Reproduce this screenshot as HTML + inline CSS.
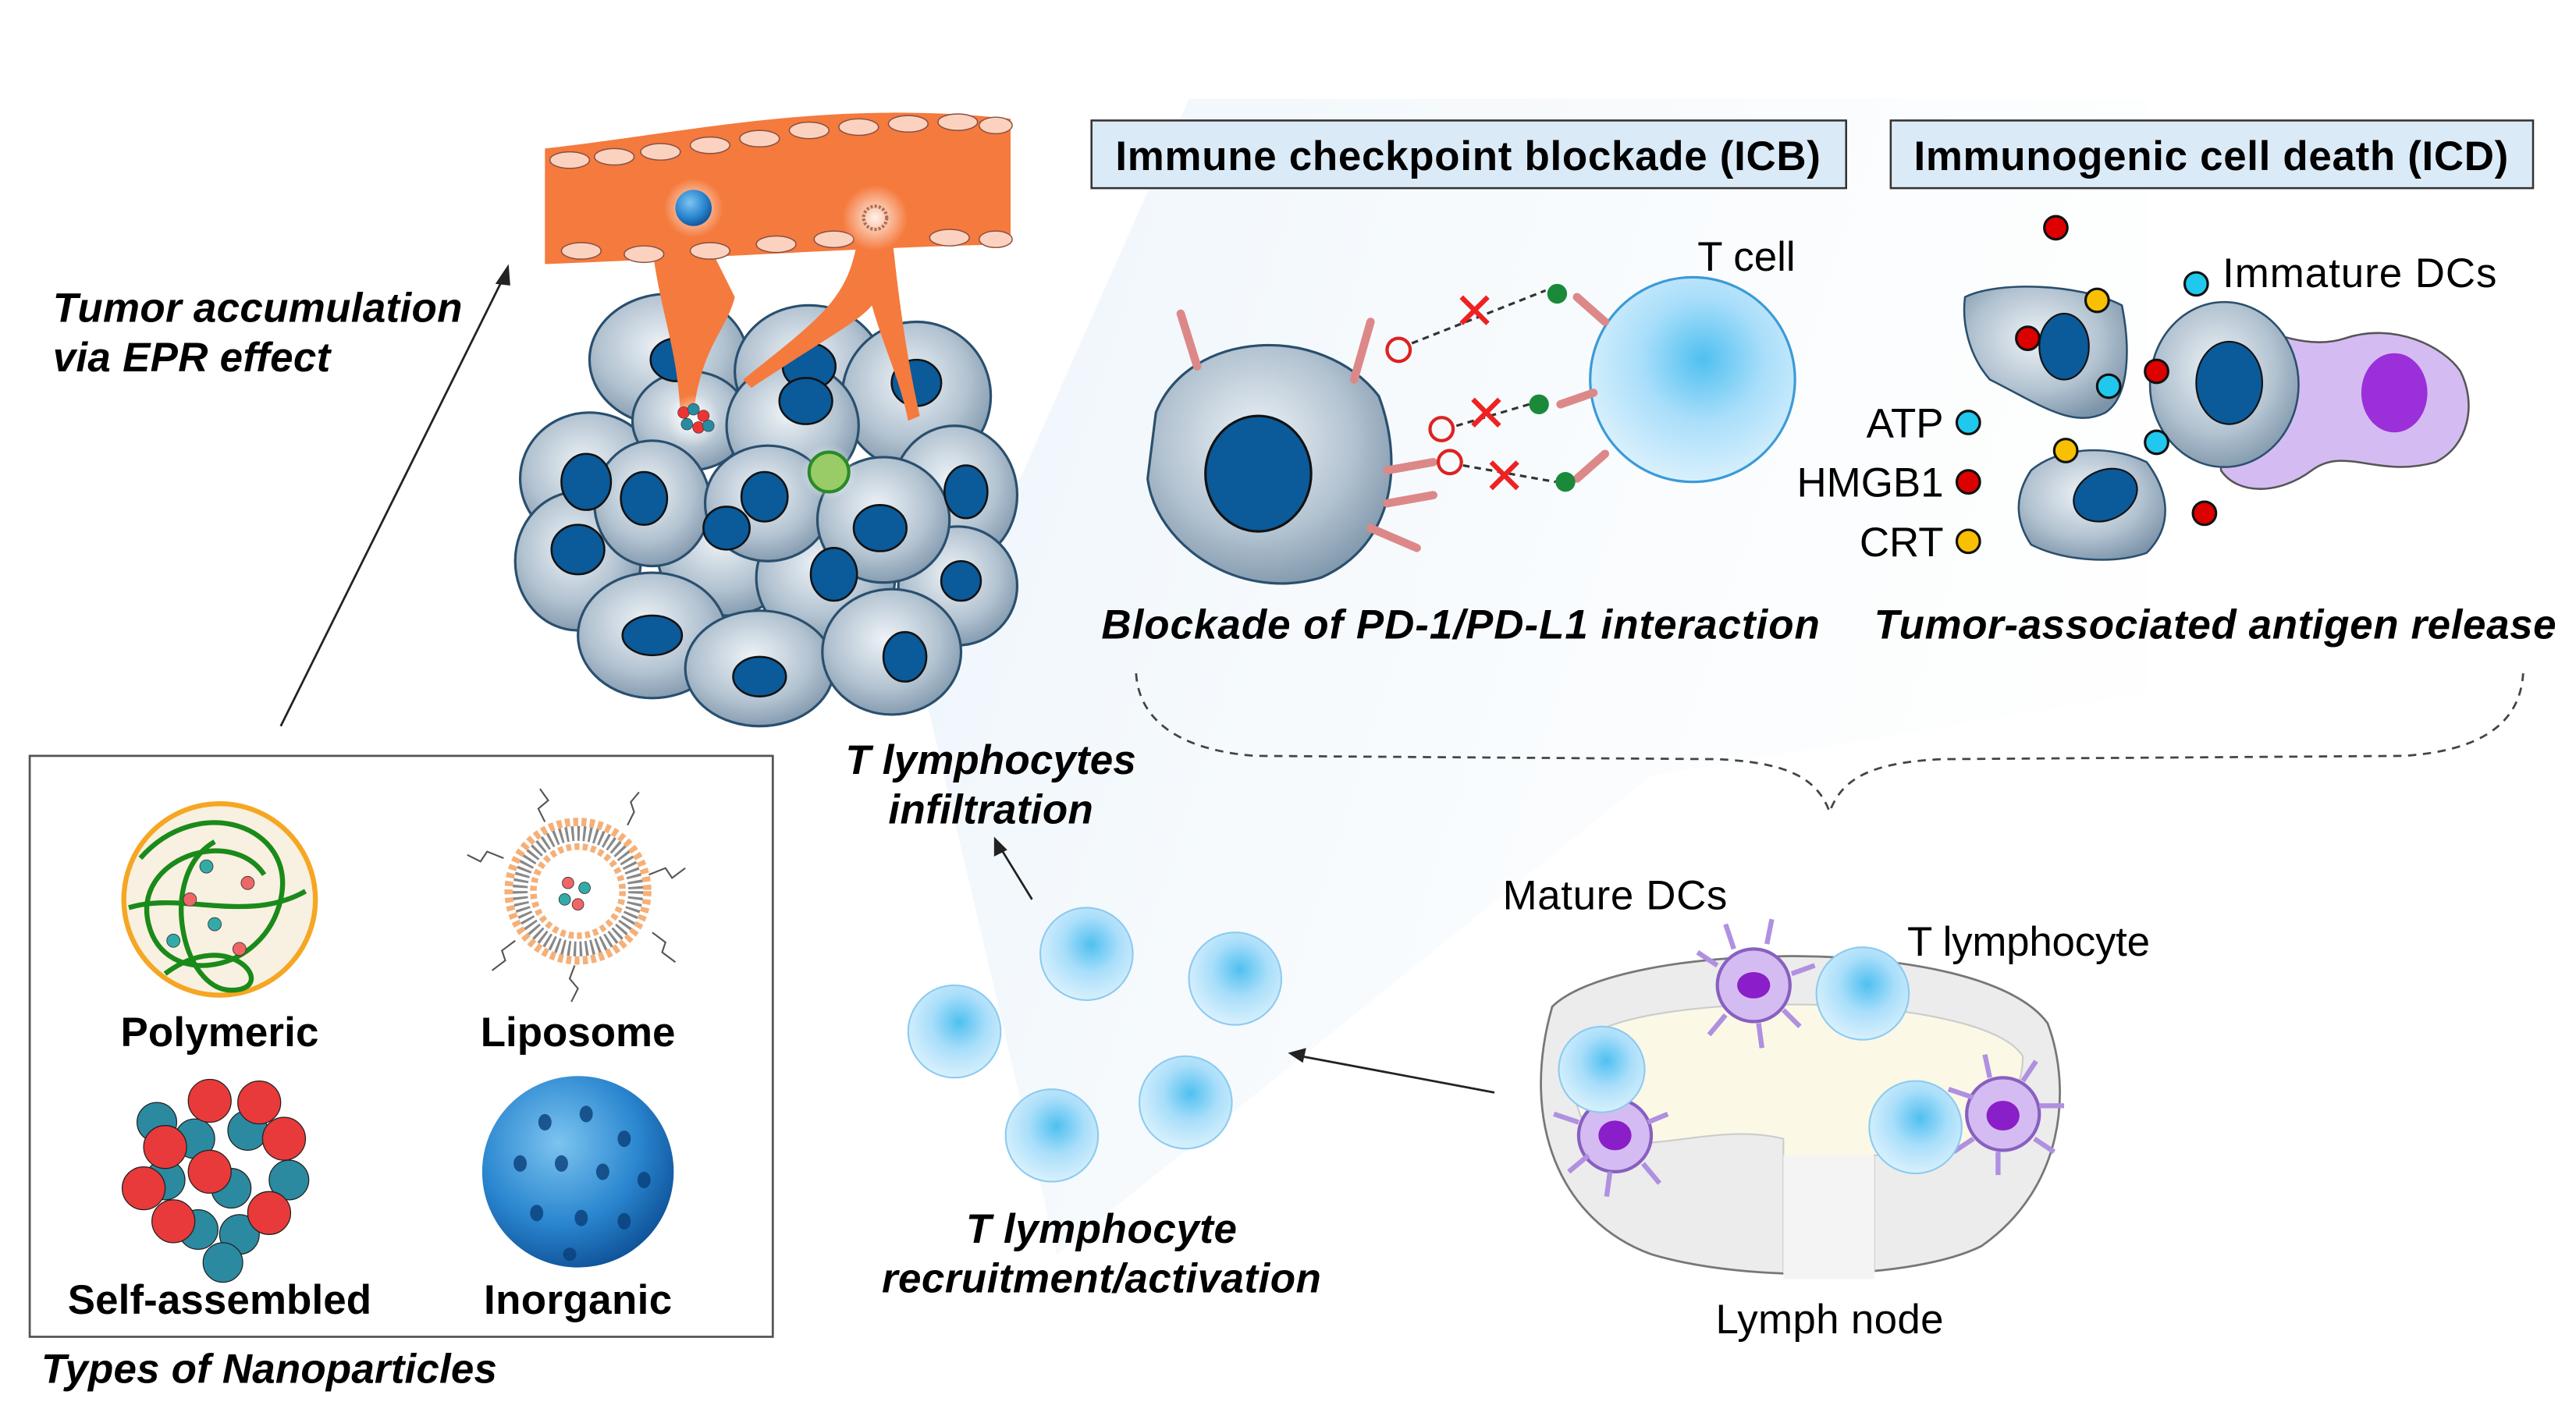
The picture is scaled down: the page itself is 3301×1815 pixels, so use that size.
<!DOCTYPE html>
<html><head><meta charset="utf-8"><style>
html,body{margin:0;padding:0;background:#fff}
svg{display:block}
text{font-family:"Liberation Sans",Arial,sans-serif}
.bi{font-weight:bold;font-style:italic;font-size:25px}
.b{font-weight:bold;font-size:25px}
.n{font-size:25px}
</style></head><body>
<svg width="3301" height="1815" viewBox="0 0 1560 858" preserveAspectRatio="none" xmlns="http://www.w3.org/2000/svg">
<defs>
<radialGradient id="cg" cx="0.45" cy="0.4" r="0.65"><stop offset="0" stop-color="#eef3f7"/><stop offset="0.6" stop-color="#b3c3d1"/><stop offset="1" stop-color="#7c94a9"/></radialGradient>
<radialGradient id="tg" cx="0.55" cy="0.4" r="0.6"><stop offset="0" stop-color="#4fc0f0"/><stop offset="0.5" stop-color="#a9defa"/><stop offset="1" stop-color="#d8f0fd"/></radialGradient>
<radialGradient id="ig" cx="0.4" cy="0.35" r="0.7"><stop offset="0" stop-color="#7cc4f0"/><stop offset="0.6" stop-color="#2a86cf"/><stop offset="1" stop-color="#0d4f96"/></radialGradient>
<linearGradient id="bg" x1="0" y1="0" x2="1" y2="0.3"><stop offset="0" stop-color="#e8f2fa" stop-opacity="0.8"/><stop offset="1" stop-color="#f8fbfd" stop-opacity="0.2"/></linearGradient>
<radialGradient id="glow"><stop offset="0" stop-color="#fff" stop-opacity="0.9"/><stop offset="1" stop-color="#fff" stop-opacity="0"/></radialGradient>
</defs>
<path d="M560,420 L720,60 L1300,60 L1300,420 L1000,470 L640,760 Z" fill="url(#bg)"/>

<line x1="170" y1="440" x2="305" y2="168" stroke="#222" stroke-width="1.3"/>
<path d="M308,160 L300,172 L309,173 Z" fill="#222"/>
<line x1="625" y1="545" x2="606" y2="514" stroke="#222" stroke-width="1.3"/>
<path d="M602,507 L602,519 L610,515 Z" fill="#222"/>
<line x1="905" y1="662" x2="788" y2="640" stroke="#222" stroke-width="1.3"/>
<path d="M780,638 L791,635 L789,644 Z" fill="#222"/>

<text class="bi" x="32" y="195" textLength="248">Tumor accumulation</text>
<text class="bi" x="32" y="225" textLength="168">via EPR effect</text>

<g stroke="#2a4f6e" stroke-width="1.5">
<ellipse cx="405" cy="218" rx="48" ry="40" fill="url(#cg)"/>
<ellipse cx="490" cy="225" rx="45" ry="40" fill="url(#cg)"/>
<ellipse cx="555" cy="240" rx="45" ry="45" fill="url(#cg)"/>
<ellipse cx="578" cy="300" rx="38" ry="42" fill="url(#cg)"/>
<ellipse cx="357" cy="290" rx="42" ry="40" fill="url(#cg)"/>
<ellipse cx="350" cy="340" rx="38" ry="42" fill="url(#cg)"/>
<ellipse cx="580" cy="355" rx="36" ry="36" fill="url(#cg)"/>
<ellipse cx="440" cy="335" rx="42" ry="38" fill="url(#cg)"/>
<ellipse cx="500" cy="350" rx="42" ry="40" fill="url(#cg)"/>
<ellipse cx="395" cy="385" rx="45" ry="38" fill="url(#cg)"/>
<ellipse cx="460" cy="405" rx="45" ry="35" fill="url(#cg)"/>
<ellipse cx="540" cy="395" rx="42" ry="38" fill="url(#cg)"/>
<ellipse cx="418" cy="255" rx="35" ry="30" fill="url(#cg)"/>
<ellipse cx="395" cy="305" rx="35" ry="38" fill="url(#cg)"/>
<ellipse cx="480" cy="258" rx="40" ry="38" fill="url(#cg)"/>
<ellipse cx="465" cy="305" rx="38" ry="35" fill="url(#cg)"/>
<ellipse cx="535" cy="315" rx="40" ry="38" fill="url(#cg)"/>
</g>
<g fill="#0b5a99" stroke="#111" stroke-width="1.2">
<ellipse cx="410" cy="218" rx="16" ry="13"/><ellipse cx="490" cy="222" rx="16" ry="14"/>
<ellipse cx="555" cy="232" rx="15" ry="14"/><ellipse cx="585" cy="298" rx="13" ry="16"/>
<ellipse cx="355" cy="292" rx="15" ry="17"/><ellipse cx="350" cy="333" rx="16" ry="15"/>
<ellipse cx="582" cy="352" rx="12" ry="12"/><ellipse cx="440" cy="320" rx="14" ry="13"/>
<ellipse cx="505" cy="348" rx="14" ry="16"/><ellipse cx="395" cy="385" rx="18" ry="12"/>
<ellipse cx="460" cy="410" rx="16" ry="12"/><ellipse cx="548" cy="398" rx="13" ry="15"/>
<ellipse cx="390" cy="302" rx="14" ry="16"/><ellipse cx="488" cy="243" rx="16" ry="14"/>
<ellipse cx="463" cy="301" rx="14" ry="15"/><ellipse cx="533" cy="320" rx="16" ry="14"/>
</g>
<g fill="#f57a3d">
<path d="M395,150 C400,190 410,210 412,250 L420,250 C425,210 440,200 445,180 L430,150 Z"/>
<path d="M520,140 C515,180 500,190 450,230 L455,235 C500,205 520,195 528,185 C535,210 545,230 550,255 L557,252 C550,220 545,190 540,140 Z"/>
<path d="M330,90 C420,80 500,60 612,72 L612,148 C520,150 460,155 330,160 Z"/>
</g>
<g fill="#fbd2c0" stroke="#8a5040" stroke-width="0.7">
<ellipse cx="345" cy="97" rx="12" ry="5"/><ellipse cx="372" cy="95" rx="12" ry="5"/><ellipse cx="400" cy="92" rx="12" ry="5"/>
<ellipse cx="430" cy="88" rx="12" ry="5"/><ellipse cx="460" cy="84" rx="12" ry="5"/><ellipse cx="490" cy="79" rx="12" ry="5"/>
<ellipse cx="520" cy="77" rx="12" ry="5"/><ellipse cx="550" cy="75" rx="12" ry="5"/><ellipse cx="580" cy="74" rx="12" ry="5"/><ellipse cx="603" cy="76" rx="10" ry="5"/>
<ellipse cx="352" cy="152" rx="12" ry="5"/><ellipse cx="390" cy="154" rx="12" ry="5"/><ellipse cx="430" cy="152" rx="12" ry="5"/>
<ellipse cx="470" cy="148" rx="12" ry="5"/><ellipse cx="505" cy="145" rx="12" ry="5"/><ellipse cx="575" cy="144" rx="12" ry="5"/><ellipse cx="603" cy="145" rx="10" ry="5"/>
</g>
<circle cx="420" cy="126" r="18" fill="url(#glow)"/>
<circle cx="420" cy="126" r="11" fill="url(#ig)"/>
<circle cx="530" cy="132" r="20" fill="url(#glow)"/>
<circle cx="530" cy="132" r="7" fill="none" stroke="#b07050" stroke-width="2" stroke-dasharray="1.5 1"/>
<circle cx="420" cy="255" r="16" fill="url(#glow)"/>
<g stroke="#333" stroke-width="0.3"><circle cx="414" cy="250" r="3.5" fill="#e33"/><circle cx="420" cy="248" r="3.5" fill="#2a8aa0"/><circle cx="426" cy="252" r="3.5" fill="#e33"/><circle cx="416" cy="257" r="3.5" fill="#2a8aa0"/><circle cx="423" cy="259" r="3.5" fill="#e33"/><circle cx="429" cy="258" r="3.5" fill="#2a8aa0"/></g>
<circle cx="502" cy="286" r="17" fill="url(#glow)"/>
<circle cx="502" cy="286" r="12" fill="#9c6" stroke="#2a8a2a" stroke-width="2"/>

<rect x="18" y="458" width="450" height="352" fill="#fff" stroke="#555" stroke-width="1.3"/>
<circle cx="133" cy="545" r="58" fill="#f8f0e0" stroke="#f5a623" stroke-width="3"/>
<g fill="none" stroke="#1a8a1a" stroke-width="3">
<path d="M85,520 C120,480 180,500 170,545 C160,590 100,600 90,560 C80,520 140,500 160,530"/>
<path d="M100,590 C140,560 170,600 140,600 C110,600 95,530 130,510"/>
<path d="M78,550 C110,540 150,560 185,540"/>
</g>
<g stroke="#333" stroke-width="0.4"><circle cx="115" cy="545" r="4" fill="#e66"/><circle cx="130" cy="560" r="4" fill="#3aa"/><circle cx="150" cy="535" r="4" fill="#e66"/><circle cx="125" cy="525" r="4" fill="#3aa"/><circle cx="145" cy="575" r="4" fill="#e66"/><circle cx="105" cy="570" r="4" fill="#3aa"/></g>
<circle cx="350" cy="540" r="42" fill="none" stroke="#f5b078" stroke-width="5" stroke-dasharray="3 2"/>
<circle cx="350" cy="540" r="35" fill="none" stroke="#888" stroke-width="9" stroke-dasharray="1.5 2"/>
<circle cx="350" cy="540" r="27" fill="none" stroke="#f5b078" stroke-width="4" stroke-dasharray="3 2"/>
<g stroke="#333" stroke-width="0.4"><circle cx="344" cy="535" r="3.5" fill="#e66"/><circle cx="354" cy="538" r="3.5" fill="#3aa"/><circle cx="350" cy="548" r="3.5" fill="#e66"/><circle cx="342" cy="545" r="3.5" fill="#3aa"/></g>
<g fill="none" stroke="#555" stroke-width="1"><path d="M330,498 l-4,-8 l6,-5 l-5,-7"/><path d="M380,500 l4,-8 l-2,-6 l5,-6"/><path d="M393,530 l10,-4 l4,6 l8,-6"/><path d="M305,520 l-10,-4 l-4,6 l-8,-4"/><path d="M312,570 l-8,6 l2,6 l-8,6"/><path d="M395,565 l8,6 l-2,6 l8,6"/><path d="M348,585 l-3,8 l5,6 l-4,8"/></g>
<text class="b" x="133" y="634" text-anchor="middle" textLength="120">Polymeric</text>
<text class="b" x="350" y="634" text-anchor="middle" textLength="118">Liposome</text>
<g stroke="#222" stroke-width="0.6">
<circle cx="95" cy="680" r="12" fill="#2b8aa0"/><circle cx="118" cy="690" r="12" fill="#2b8aa0"/><circle cx="150" cy="685" r="12" fill="#2b8aa0"/><circle cx="100" cy="715" r="12" fill="#2b8aa0"/><circle cx="140" cy="720" r="12" fill="#2b8aa0"/><circle cx="175" cy="715" r="12" fill="#2b8aa0"/><circle cx="120" cy="745" r="12" fill="#2b8aa0"/><circle cx="145" cy="748" r="12" fill="#2b8aa0"/>
<circle cx="127" cy="667" r="13" fill="#e83a3a"/><circle cx="100" cy="695" r="13" fill="#e83a3a"/><circle cx="157" cy="668" r="13" fill="#e83a3a"/><circle cx="172" cy="690" r="13" fill="#e83a3a"/><circle cx="127" cy="710" r="13" fill="#e83a3a"/><circle cx="87" cy="720" r="13" fill="#e83a3a"/><circle cx="163" cy="735" r="13" fill="#e83a3a"/><circle cx="105" cy="740" r="13" fill="#e83a3a"/><circle cx="135" cy="765" r="12" fill="#2b8aa0"/>
</g>
<circle cx="350" cy="710" r="58" fill="url(#ig)"/>
<g fill="#0a3f7a" opacity="0.8"><ellipse cx="330" cy="680" rx="4" ry="5"/><ellipse cx="355" cy="675" rx="4" ry="5"/><ellipse cx="378" cy="690" rx="4" ry="5"/><ellipse cx="315" cy="705" rx="4" ry="5"/><ellipse cx="340" cy="705" rx="4" ry="5"/><ellipse cx="365" cy="710" rx="4" ry="5"/><ellipse cx="390" cy="715" rx="4" ry="5"/><ellipse cx="325" cy="735" rx="4" ry="5"/><ellipse cx="352" cy="738" rx="4" ry="5"/><ellipse cx="378" cy="740" rx="4" ry="5"/><ellipse cx="345" cy="760" rx="4" ry="4"/></g>
<text class="b" x="133" y="796" text-anchor="middle" textLength="184">Self-assembled</text>
<text class="b" x="350" y="796" text-anchor="middle" textLength="114">Inorganic</text>
<text class="bi" x="25" y="838" textLength="276">Types of Nanoparticles</text>

<rect x="661" y="73" width="457" height="41" fill="#dbeaf7" stroke="#333" stroke-width="1.2"/>
<text class="b" x="889" y="103" text-anchor="middle" textLength="427">Immune checkpoint blockade (ICB)</text>
<rect x="1145" y="73" width="389" height="41" fill="#dbeaf7" stroke="#333" stroke-width="1.2"/>
<text class="b" x="1339" y="103" text-anchor="middle" textLength="360">Immunogenic cell death (ICD)</text>

<path d="M700,250 C720,200 800,195 835,240 C850,280 845,330 800,350 C750,365 700,330 695,290 Z" fill="url(#cg)" stroke="#2a4f6e" stroke-width="1.5"/>
<ellipse cx="762" cy="287" rx="32" ry="35" fill="#0b5a99" stroke="#111" stroke-width="1.5"/>
<circle cx="1025" cy="230" r="62" fill="url(#tg)" stroke="#3a9ad8" stroke-width="1.5"/>
<text class="n" x="1028" y="164">T cell</text>
<g stroke="#d88" stroke-width="5" stroke-linecap="round">
<line x1="715" y1="190" x2="725" y2="222"/><line x1="830" y1="195" x2="820" y2="230"/><line x1="840" y1="285" x2="868" y2="280"/><line x1="840" y1="305" x2="868" y2="300"/><line x1="830" y1="320" x2="858" y2="332"/>
<line x1="955" y1="180" x2="972" y2="195"/><line x1="945" y1="245" x2="965" y2="238"/><line x1="955" y1="290" x2="972" y2="275"/>
</g>
<g fill="none" stroke="#d22" stroke-width="2"><circle cx="847" cy="212" r="7"/><circle cx="873" cy="260" r="7"/><circle cx="878" cy="280" r="7"/></g>
<g fill="#1a8a3a"><circle cx="943" cy="178" r="6"/><circle cx="932" cy="245" r="6"/><circle cx="948" cy="292" r="6"/></g>
<g stroke="#333" stroke-width="1.5" stroke-dasharray="4 3"><line x1="855" y1="208" x2="936" y2="176"/><line x1="882" y1="258" x2="926" y2="245"/><line x1="886" y1="282" x2="942" y2="292"/></g>
<g stroke="#e22" stroke-width="3"><path d="M885,180 l16,16 M901,180 l-16,16"/><path d="M892,242 l16,16 M908,242 l-16,16"/><path d="M903,280 l16,16 M919,280 l-16,16"/></g>
<text class="bi" x="667" y="387" textLength="435">Blockade of  PD-1/PD-L1 interaction</text>

<path d="M1345,198 C1360,190 1390,215 1420,205 C1450,195 1480,210 1490,225 C1500,245 1495,270 1475,280 C1440,290 1420,270 1400,285 C1380,300 1355,300 1345,285 Z" fill="#d4bcf2" stroke="#555" stroke-width="1.2"/>
<ellipse cx="1450" cy="238" rx="20" ry="24" fill="#9b2fd9"/>
<path d="M1190,180 C1210,170 1260,172 1285,185 C1290,210 1290,240 1275,250 C1255,260 1235,245 1205,230 C1192,215 1188,195 1190,180 Z" fill="url(#cg)" stroke="#2a4f6e" stroke-width="1.2"/>
<ellipse cx="1250" cy="210" rx="15" ry="20" fill="#0b5a99" stroke="#111"/>
<ellipse cx="1347" cy="233" rx="45" ry="50" fill="url(#cg)" stroke="#2a4f6e" stroke-width="1.2"/>
<ellipse cx="1350" cy="232" rx="20" ry="25" fill="#0b5a99" stroke="#111"/>
<path d="M1230,285 C1245,272 1275,268 1300,280 C1315,300 1315,320 1300,335 C1280,342 1250,340 1230,330 C1220,315 1220,300 1230,285 Z" fill="url(#cg)" stroke="#2a4f6e" stroke-width="1.2"/>
<ellipse cx="1275" cy="300" rx="20" ry="15" fill="#0b5a99" stroke="#111" transform="rotate(-25 1275 300)"/>
<g stroke="#111" stroke-width="1.5">
<circle cx="1245" cy="138" r="7" fill="#d00"/><circle cx="1228" cy="205" r="7" fill="#d00"/><circle cx="1306" cy="225" r="7" fill="#d00"/><circle cx="1335" cy="311" r="7" fill="#d00"/><circle cx="1192" cy="292" r="7" fill="#d00"/>
<circle cx="1330" cy="172" r="7" fill="#20c8ee"/><circle cx="1277" cy="234" r="7" fill="#20c8ee"/><circle cx="1306" cy="268" r="7" fill="#20c8ee"/><circle cx="1192" cy="256" r="7" fill="#20c8ee"/>
<circle cx="1270" cy="182" r="7" fill="#f8c000"/><circle cx="1251" cy="273" r="7" fill="#f8c000"/><circle cx="1192" cy="328" r="7" fill="#f8c000"/>
</g>
<text class="n" x="1346" y="174" textLength="166">Immature DCs</text>
<text class="n" x="1177" y="265" text-anchor="end">ATP</text>
<text class="n" x="1177" y="301" text-anchor="end">HMGB1</text>
<text class="n" x="1177" y="337" text-anchor="end">CRT</text>
<text class="bi" x="1135" y="387" textLength="413">Tumor-associated  antigen release</text>

<path d="M688,408 C690,440 720,455 760,458 L1040,460 C1080,462 1100,470 1108,492 C1116,470 1136,462 1176,460 L1456,458 C1500,455 1526,440 1528,408" fill="none" stroke="#444" stroke-width="1.3" stroke-dasharray="5 4"/>

<text class="bi" x="600" y="469" text-anchor="middle" textLength="176">T lymphocytes</text>
<text class="bi" x="600" y="499" text-anchor="middle" textLength="124">infiltration</text>

<g stroke="#8ccbf0" stroke-width="1">
<ellipse cx="658" cy="578" rx="28" ry="28" fill="url(#tg)"/><ellipse cx="748" cy="593" rx="28" ry="28" fill="url(#tg)"/>
<ellipse cx="578" cy="625" rx="28" ry="28" fill="url(#tg)"/><ellipse cx="718" cy="668" rx="28" ry="28" fill="url(#tg)"/>
<ellipse cx="637" cy="688" rx="28" ry="28" fill="url(#tg)"/>
</g>
<text class="bi" x="667" y="753" text-anchor="middle" textLength="164">T lymphocyte</text>
<text class="bi" x="667" y="783" text-anchor="middle" textLength="266">recruitment/activation</text>

<path d="M940,610 C980,570 1200,565 1240,620 C1255,660 1250,720 1200,755 C1160,775 1060,778 1000,760 C945,740 920,680 940,610 Z" fill="#ececec" stroke="#777" stroke-width="1.3"/>
<path d="M960,630 C990,600 1200,600 1225,640 C1225,670 1200,690 1180,700 L1135,700 L1135,770 L1080,770 L1080,690 C1040,680 1000,700 965,690 C950,670 950,645 960,630 Z" fill="#fbf8e6" stroke="#ccc" stroke-width="1"/>
<path d="M1080,700 L1080,775 L1135,775 L1135,700 Z" fill="#f4f4f4"/>
<g fill="#d4bcf2" stroke="#8860c0" stroke-width="2">
<circle cx="1062" cy="597" r="22"/><circle cx="978" cy="688" r="22"/><circle cx="1213" cy="675" r="22"/>
</g>
<g fill="#8a1ec8"><ellipse cx="1062" cy="597" rx="10" ry="8"/><ellipse cx="978" cy="688" rx="10" ry="9"/><ellipse cx="1213" cy="676" rx="10" ry="9"/></g>
<g stroke="#b090e0" stroke-width="3" fill="none"><path d="M1040,585 l-12,-8 M1050,575 l-5,-15 M1070,572 l3,-15 M1085,590 l14,-5 M1045,615 l-10,12 M1065,620 l2,15 M1080,612 l10,10"/><path d="M956,680 l-15,-5 M962,700 l-12,10 M975,710 l-2,15 M995,705 l10,12 M998,680 l12,-5 M970,666 l-5,-15"/><path d="M1195,665 l-15,-5 M1205,653 l-3,-14 M1225,655 l8,-12 M1235,670 l15,0 M1232,690 l12,8 M1210,698 l0,14 M1195,690 l-12,8"/></g>
<g stroke="#8ccbf0" stroke-width="1"><circle cx="1128" cy="602" r="28" fill="url(#tg)"/><circle cx="970" cy="648" r="26" fill="url(#tg)"/><circle cx="1160" cy="683" r="28" fill="url(#tg)"/></g>
<text class="n" x="910" y="551" textLength="136">Mature DCs</text>
<text class="n" x="1155" y="579" textLength="147">T lymphocyte</text>
<text class="n" x="1108" y="808" text-anchor="middle" textLength="138">Lymph node</text>
</svg>
</body></html>
